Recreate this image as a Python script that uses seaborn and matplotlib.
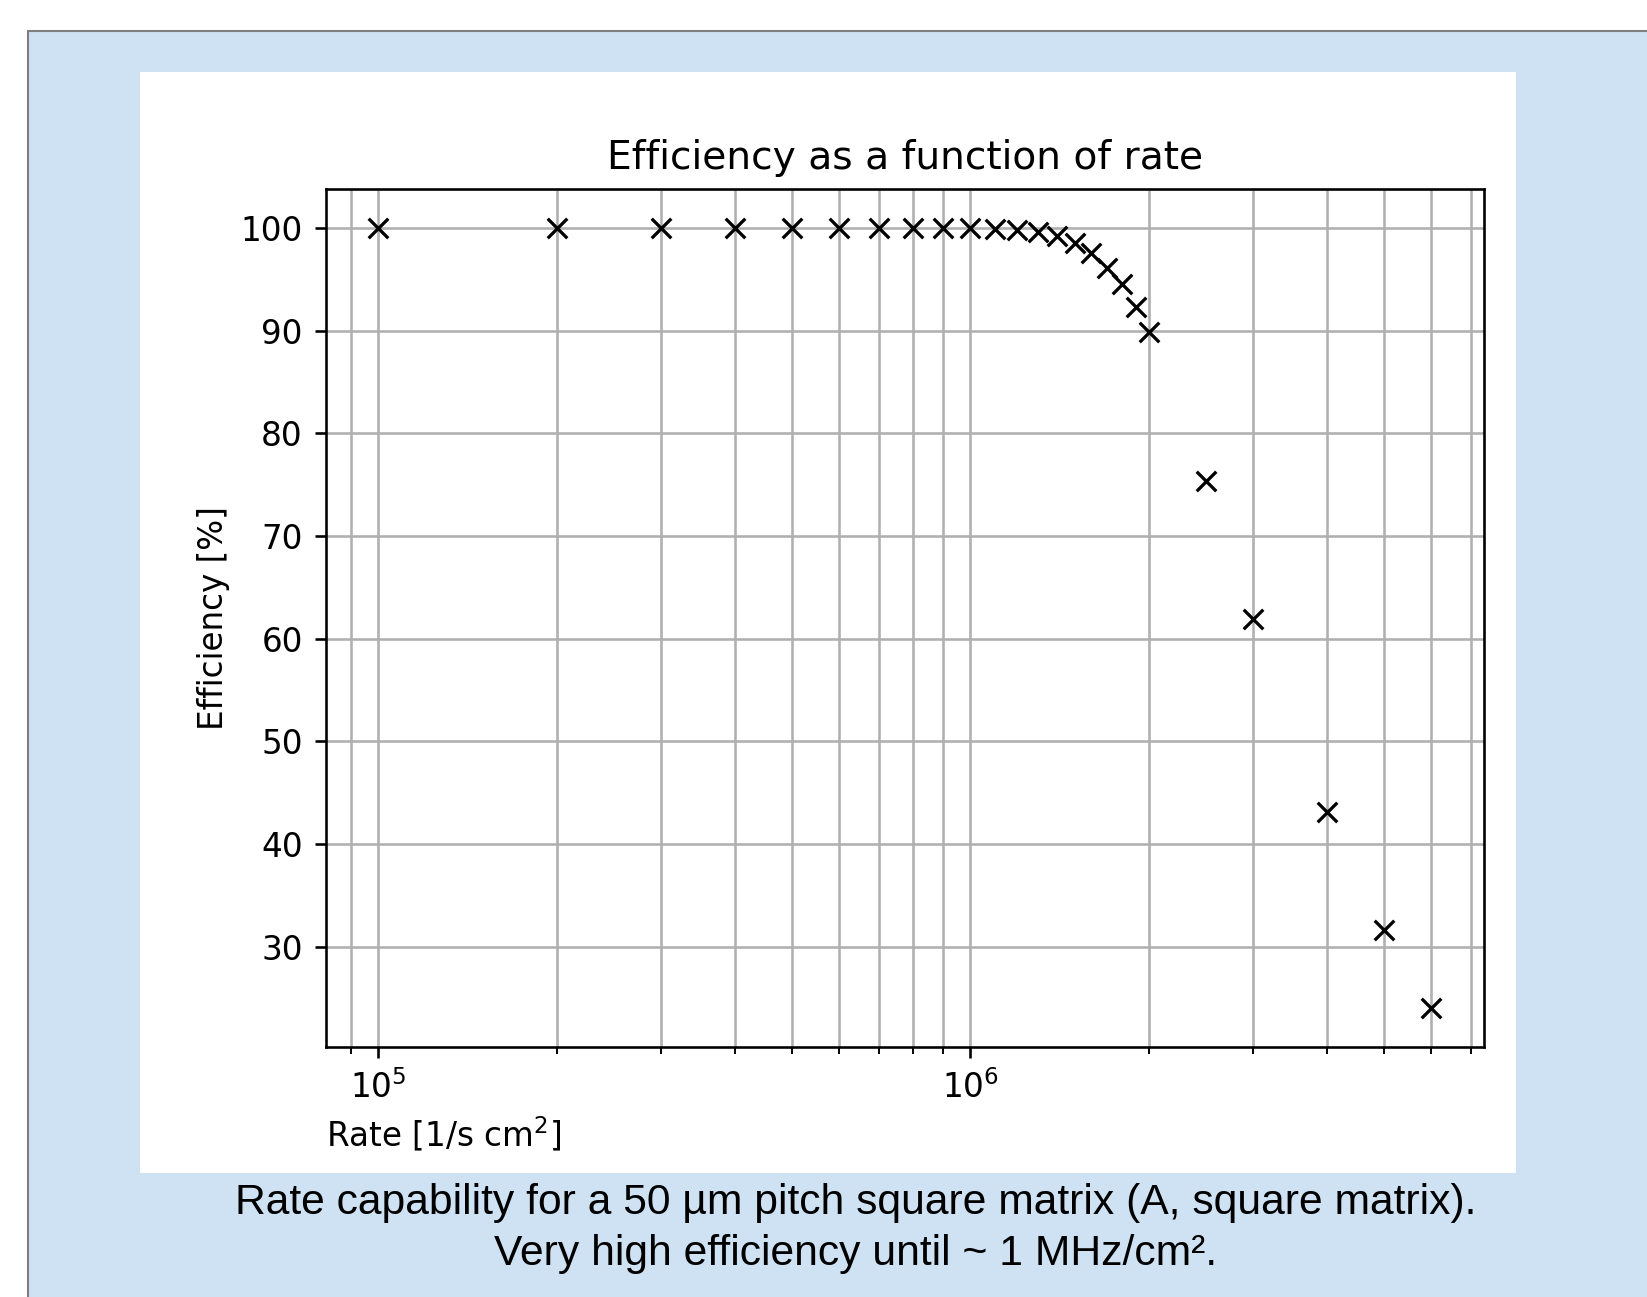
import numpy as np
import pandas as pd
import matplotlib
matplotlib.use("Agg")
import matplotlib.pyplot as plt
from matplotlib.patches import Rectangle
from matplotlib.ticker import NullFormatter
import seaborn as sns

# rate [1/s cm^2] and efficiency [%]
rate = [1e5, 2e5, 3e5, 4e5, 5e5, 6e5, 7e5, 8e5, 9e5, 1e6,
        1.1e6, 1.2e6, 1.3e6, 1.4e6, 1.5e6, 1.6e6, 1.7e6, 1.8e6, 1.9e6, 2.0e6,
        2.5e6, 3e6, 4e6, 5e6, 6e6]
efficiency = [100, 100, 100, 100, 100, 100, 100, 100, 100, 100,
              99.9, 99.8, 99.6, 99.2, 98.5, 97.6, 96.1, 94.5, 92.3, 89.9,
              75.4, 61.9, 43.1, 31.6, 24.0]
yticks = [30, 40, 50, 60, 70, 80, 90, 100]

title = "Efficiency as a function of rate"
xlabel = "Rate [1/s cm$^2$]"
ylabel = "Efficiency [%]"
caption1 = "Rate capability for a 50 µm pitch square matrix (A, square matrix)."
caption2 = "Very high efficiency until ~ 1 MHz/cm²."

df = pd.DataFrame({"rate": rate, "efficiency": efficiency})

k = 2.35  # scale factor of the embedded matplotlib figure
plt.rcParams['font.family'] = ['DejaVu Sans']

fig = plt.figure(figsize=(16.47, 12.97), dpi=100)
fig.patch.set_facecolor("white")

# blue slide panel and white plot area
fig.patches.append(Rectangle((28 / 1647, -0.02), 1.0, (1297 - 31) / 1297 + 0.02,
                             transform=fig.transFigure, facecolor="#cfe2f3",
                             edgecolor="#7f7f7f", linewidth=1.5, zorder=-2))
fig.patches.append(Rectangle((140 / 1647, (1297 - 1173) / 1297), (1516 - 140) / 1647,
                             (1173 - 72) / 1297, transform=fig.transFigure,
                             facecolor="white", edgecolor="none", zorder=-1))

ax = fig.add_axes([325.6 / 1647, (1297 - 1047.3) / 1297,
                   (1484 - 325.6) / 1647, (1047.3 - 189) / 1297])
ax.set_facecolor("white")

sns.scatterplot(data=df, x="rate", y="efficiency", marker="x", color="black",
                s=(6 * k) ** 2, linewidth=1.0 * k, ax=ax, zorder=3)
ax.set_xscale("log")
ax.xaxis.set_minor_formatter(NullFormatter())
ax.set_yticks(yticks)

ax.grid(True, which="both", color="#b0b0b0", linewidth=0.8 * k)
ax.set_axisbelow(True)
for sp in ax.spines.values():
    sp.set_linewidth(0.8 * k)
    sp.set_color("black")
ax.tick_params(which="major", length=3.5 * k, width=0.8 * k, labelsize=10 * k, pad=3.5 * k)
ax.tick_params(which="minor", length=2 * k, width=0.6 * k)

ax.set_title(title, fontsize=12 * k, pad=6 * k)
ax.set_xlabel(xlabel, fontsize=10 * k, loc="left", labelpad=3 * k)
ax.set_ylabel(ylabel, fontsize=10 * k, labelpad=3.3 * k)

cap_font = ['Liberation Sans', 'DejaVu Sans']
fig.text(856 / 1647, (1297 - 1203) / 1297, caption1, ha="center", va="center",
         fontsize=30.7, family=cap_font, zorder=5)
fig.text(856 / 1647, (1297 - 1254) / 1297, caption2, ha="center", va="center",
         fontsize=30.7, family=cap_font, zorder=5)

fig.savefig("out.png", dpi=100)
